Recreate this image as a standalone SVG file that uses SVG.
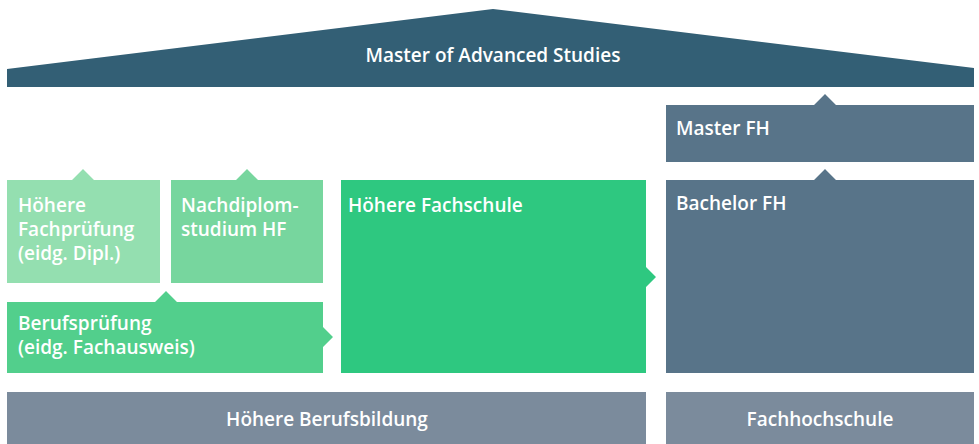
<svg xmlns="http://www.w3.org/2000/svg" width="979" height="444" viewBox="0 0 979 444">
<style>
text{font-family:"Open Sans","Noto Sans","Liberation Sans",sans-serif;font-weight:600;fill:#ffffff;font-size:19px}
.c{text-anchor:middle}
</style>
<rect width="979" height="444" fill="#ffffff"/>
<g id="mas">
<polygon points="7,69 493,9 974,68 974,87 7,87" fill="#335f75"/>
<text class="c" x="493" y="62">Master of Advanced Studies</text>
</g>
<g id="master-fh">
<polygon points="666,105 814,105 825,94 836,105 974,105 974,162 666,162" fill="#587489"/>
<text x="676" y="135">Master FH</text>
</g>
<g id="bachelor-fh">
<polygon points="666,180 814,180 825,169 836,180 974,180 974,373 666,373" fill="#587489"/>
<text x="676" y="210">Bachelor FH</text>
</g>
<g id="hoehere-fachpruefung">
<polygon points="7,180 72,180 83,169 94,180 160,180 160,283 7,283" fill="#94dfb0"/>
<text x="18" y="212">Höhere</text>
<text x="18" y="236">Fachprüfung</text>
<text x="18" y="260">(eidg. Dipl.)</text>
</g>
<g id="nachdiplomstudium">
<polygon points="171,180 236,180 247,169 258,180 323,180 323,283 171,283" fill="#77d69e"/>
<text x="181" y="212">Nachdiplom-</text>
<text x="181" y="236">studium HF</text>
</g>
<g id="berufspruefung">
<polygon points="7,302 155,302 166,291 177,302 323,302 323,327 333,337 323,347 323,373 7,373" fill="#52cf8c"/>
<text x="18" y="330">Berufsprüfung</text>
<text x="18" y="354">(eidg. Fachausweis)</text>
</g>
<g id="hoehere-fachschule">
<polygon points="341,180 646,180 646,267 656,277 646,287 646,373 341,373" fill="#2ec880"/>
<text x="348" y="212">Höhere Fachschule</text>
</g>
<g id="hoehere-berufsbildung">
<rect x="7" y="392" width="639" height="52" fill="#7b8b9c"/>
<text class="c" x="327" y="426">Höhere Berufsbildung</text>
</g>
<g id="fachhochschule">
<rect x="666" y="392" width="308" height="52" fill="#7b8b9c"/>
<text class="c" x="820" y="426">Fachhochschule</text>
</g>
<g id="connectors"></g>
</svg>
